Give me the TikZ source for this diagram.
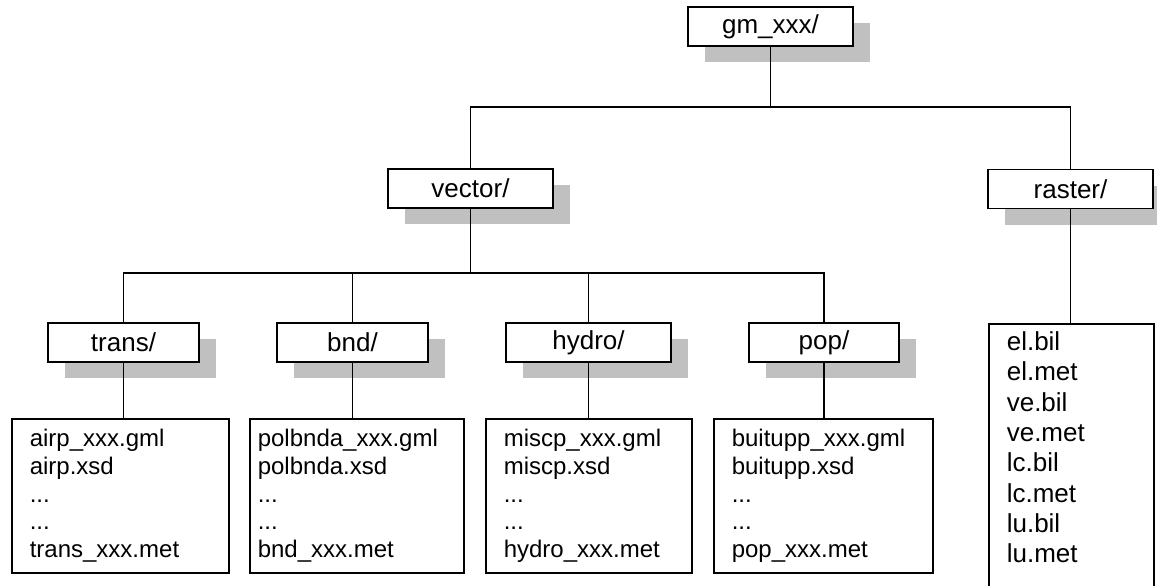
\documentclass[tikz,border=0pt]{standalone}
\usepackage{fontspec}
\setmainfont{Liberation Sans}
\usetikzlibrary{shadows}
\definecolor{shadowc}{RGB}{192,192,192}
\begin{document}
\begin{tikzpicture}[x=0.5pt,y=-0.5pt,
  dirbox/.style={draw, line width=0.8pt, fill=white, inner sep=0pt, minimum height=19.5pt,
     font=\fontsize{13}{15.6}\selectfont,
     drop shadow={shadow xshift=8.5pt, shadow yshift=-8pt, fill=shadowc, opacity=1}},
  filebox/.style={draw, line width=0.8pt, fill=white, anchor=north west, align=left,
     inner xsep=9pt, inner ysep=0pt, minimum height=77pt, font=\fontsize{12}{13.85}\selectfont},
  rasterlist/.style={draw, line width=0.8pt, fill=white, anchor=north west, align=left,
     inner xsep=9pt, inner ysep=4pt, font=\fontsize{13}{15.15}\selectfont},
  conn/.style={line width=0.65pt}]
\useasboundingbox (0,0) rectangle (1157,585);
\clip (0,0) rectangle (1157,585);

% directory boxes
\node[dirbox, minimum width=82.5pt] (gm) at (770.5,26.5) {gm\_xxx/};
\node[dirbox, minimum width=82.5pt] (vector) at (470.5,188.5) {vector/};
\node[dirbox, minimum width=82.5pt] (raster) at (1070.5,189) {raster/};
\node[dirbox, minimum width=75.5pt] (trans) at (123.5,342.5) {trans/};
\node[dirbox, minimum width=75.5pt] (bnd) at (352.5,342.5) {bnd/};
\node[dirbox, minimum width=82.5pt] (hydro) at (588.5,342.5) {hydro/};
\node[dirbox, minimum width=75pt] (pop) at (824,342.5) {pop/};

% file boxes
\node[filebox, text width=90.5pt] (tf) at (11,418)
  {airp\_xxx.gml\\airp.xsd\\...\\...\\trans\_xxx.met};
\node[filebox, inner xsep=4pt, text width=99pt] (bf) at (249,418)
  {polbnda\_xxx.gml\\polbnda.xsd\\...\\...\\bnd\_xxx.met};
\node[filebox, text width=85pt] (hf) at (485,418)
  {miscp\_xxx.gml\\miscp.xsd\\...\\...\\hydro\_xxx.met};
\node[filebox, text width=91.5pt] (pf) at (713,418)
  {buitupp\_xxx.gml\\buitupp.xsd\\...\\...\\pop\_xxx.met};
\node[rasterlist, text width=64.5pt] (rl) at (988,323)
  {el.bil\\el.met\\ve.bil\\ve.met\\lc.bil\\lc.met\\lu.bil\\lu.met\\ \mbox{}};

% connectors
\coordinate (topbar) at (771,107);
\coordinate (midbar) at (467,273);
\draw[conn] (gm.south) -- (gm.south |- topbar);
\draw[conn] (vector.north) -- (vector.north |- topbar) -- (raster.north |- topbar) -- (raster.north);
\draw[conn] (vector.south) -- (vector.south |- midbar);
\draw[conn] (trans.north) -- (trans.north |- midbar) -- (pop.north |- midbar) -- (pop.north);
\draw[conn] (bnd.north) -- (bnd.north |- midbar);
\draw[conn] (hydro.north) -- (hydro.north |- midbar);
\draw[conn] (trans.south) -- (trans.south |- tf.north);
\draw[conn] (bnd.south) -- (bnd.south |- bf.north);
\draw[conn] (hydro.south) -- (hydro.south |- hf.north);
\draw[conn] (pop.south) -- (pop.south |- pf.north);
\draw[conn] (raster.south) -- (raster.south |- rl.north);
\end{tikzpicture}
\end{document}
